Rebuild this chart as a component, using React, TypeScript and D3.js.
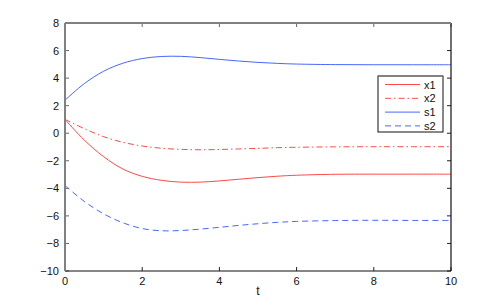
import React from 'react';
import * as d3 from 'd3';

// time samples and series values
const tValues = [0, 0.5, 1, 1.5, 2, 2.5, 3, 3.5, 4, 4.5, 5, 5.5, 6, 7, 8, 9, 10];
const x1Values = [1.0, -0.5, -1.7, -2.6, -3.13, -3.42, -3.55, -3.55, -3.46, -3.34, -3.22, -3.12, -3.05, -2.98, -2.97, -2.97, -2.97];
const x2Values = [1.0, 0.33, -0.25, -0.66, -0.93, -1.09, -1.17, -1.2, -1.18, -1.14, -1.1, -1.05, -1.02, -0.99, -0.98, -0.98, -0.98];
const s1Values = [2.4, 3.6, 4.5, 5.08, 5.42, 5.57, 5.58, 5.49, 5.36, 5.24, 5.14, 5.07, 5.02, 4.98, 4.97, 4.97, 4.97];
const s2Values = [-3.8, -4.95, -5.85, -6.5, -6.92, -7.08, -7.06, -6.96, -6.83, -6.69, -6.57, -6.47, -6.4, -6.34, -6.32, -6.33, -6.33];
const xTicks = [0, 2, 4, 6, 8, 10];
const yTicks = [-10, -8, -6, -4, -2, 0, 2, 4, 6, 8];
const seriesNames = ['x1', 'x2', 's1', 's2'];

const width = 498;
const height = 305;
const margin = { top: 23, right: 47, bottom: 34, left: 65 };
const font = 'Liberation Sans, Arial, Helvetica, sans-serif';

const App = () => {
  const x = d3.scaleLinear().domain([0, 10]).range([margin.left, width - margin.right]);
  const y = d3.scaleLinear().domain([-10, 8]).range([height - margin.bottom, margin.top]);

  const line = d3.line<number>()
    .x((_, i) => x(tValues[i]))
    .y(d => y(d))
    .curve(d3.curveCatmullRom.alpha(0.5));

  // styles per series
  const styles = [
    { values: x1Values, color: '#ff4a4a', dash: null },
    { values: x2Values, color: '#ff4a4a', dash: '6,3,1.5,3' },
    { values: s1Values, color: '#4a66ff', dash: null },
    { values: s2Values, color: '#4a66ff', dash: '6,4' },
  ];

  const x0 = x(0), x10 = x(10), yTop = y(8), yBot = y(-10);
  const legend = { x: 378, y: 76, w: 65, h: 56 };

  return (
    <svg width={width} height={height} style={{ position: 'absolute', left: 0, top: 0, background: '#fff' }}>
      <defs>
        <clipPath id="plot-clip">
          <rect x={x0} y={yTop} width={x10 - x0} height={yBot - yTop} />
        </clipPath>
      </defs>

      {/* tick marks inside the box, on all four sides */}
      {xTicks.map(t => (
        <g key={'xt' + t}>
          <line x1={x(t)} x2={x(t)} y1={yBot} y2={yBot - 4} stroke="#222" strokeWidth={1} />
          <line x1={x(t)} x2={x(t)} y1={yTop} y2={yTop + 4} stroke="#666" strokeWidth={1} />
          <text x={x(t)} y={yBot + 14} textAnchor="middle" fontFamily={font} fontSize={11} fill="#111">{t}</text>
        </g>
      ))}
      {yTicks.map(v => (
        <g key={'yt' + v}>
          <line x1={x0} x2={x0 + 4} y1={y(v)} y2={y(v)} stroke="#666" strokeWidth={1} />
          <line x1={x10} x2={x10 - 4} y1={y(v)} y2={y(v)} stroke="#222" strokeWidth={1} />
          <text x={x0 - 6} y={y(v) + 4} textAnchor="end" fontFamily={font} fontSize={11} fill="#111">
            {v < 0 ? '\u2212' + Math.abs(v) : v}
          </text>
        </g>
      ))}

      {/* series */}
      <g clipPath="url(#plot-clip)">
        {styles.map((s, i) => (
          <path key={seriesNames[i]} d={line(s.values) || ''} fill="none" stroke={s.color}
            strokeWidth={1} strokeDasharray={s.dash || undefined} />
        ))}
      </g>

      {/* axes box: top/left gray, bottom/right black */}
      <line x1={x0} x2={x10} y1={yBot} y2={yBot} stroke="#111" strokeWidth={1.2} />
      <line x1={x10} x2={x10} y1={yTop} y2={yBot} stroke="#111" strokeWidth={1.2} />
      <line x1={x0} x2={x10} y1={yTop} y2={yTop} stroke="#808080" strokeWidth={2} />
      <line x1={x0} x2={x0} y1={yTop} y2={yBot} stroke="#808080" strokeWidth={2} />

      <text x={(x0 + x10) / 2} y={yBot + 24} textAnchor="middle" fontFamily={font} fontSize={12} fill="#111">t</text>

      {/* legend */}
      <g>
        <rect x={legend.x} y={legend.y} width={legend.w} height={legend.h} fill="#fff" stroke="#111" strokeWidth={1} />
        <line x1={legend.x} x2={legend.x + legend.w} y1={legend.y} y2={legend.y} stroke="#808080" strokeWidth={1.5} />
        {styles.map((s, i) => {
          const ly = legend.y + 8.5 + i * 13.8;
          return (
            <g key={'lg' + i}>
              <line x1={legend.x + 7} x2={legend.x + 42} y1={ly} y2={ly} stroke={s.color}
                strokeWidth={1} strokeDasharray={s.dash || undefined} />
              <text x={legend.x + 46} y={ly + 4} fontFamily={font} fontSize={11} fill="#111">{seriesNames[i]}</text>
            </g>
          );
        })}
      </g>
    </svg>
  );
};

export default App;
